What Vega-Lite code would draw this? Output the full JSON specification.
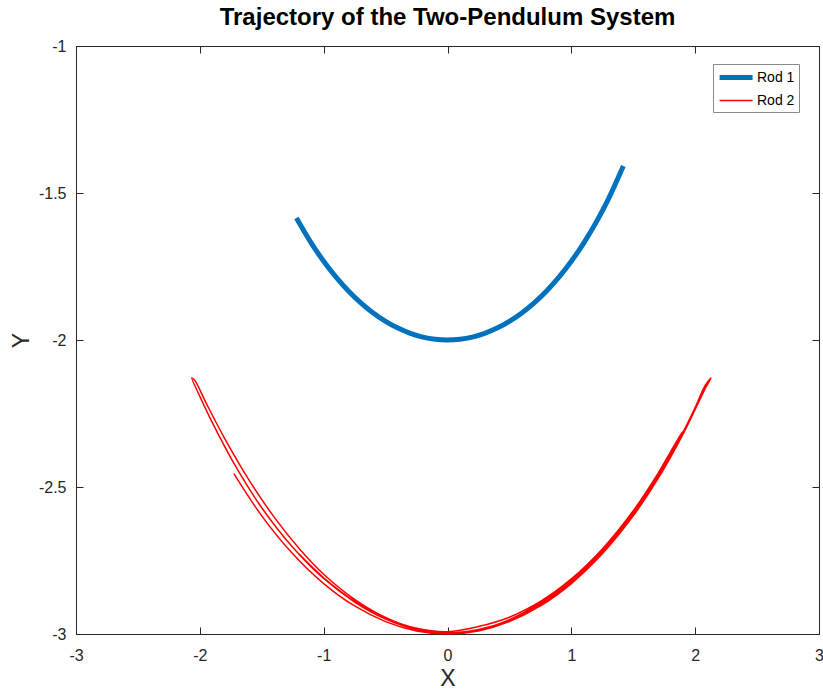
{
  "$schema": "https://vega.github.io/schema/vega-lite/v6.json",
  "autosize": {"type": "none"},
  "width": 743,
  "height": 588,
  "padding": {"left": 76, "top": 46, "right": 4, "bottom": 58},
  "background": "white",
  "title": {"text": "Trajectory of the Two-Pendulum System", "font": "Liberation Sans", "fontSize": 24, "fontWeight": "bold", "color": "#000000", "offset": 8, "anchor": "middle"},
  "config": {
    "view": {"stroke": "#262626", "strokeWidth": 1},
    "axis": {"grid": false, "labelFont": "Liberation Sans", "labelFontSize": 16, "labelColor": "#262626", "titleFont": "Liberation Sans", "titleFontWeight": "normal", "titleColor": "#262626", "domainColor": "#262626", "tickColor": "#262626", "tickSize": -7, "tickWidth": 1, "domainWidth": 1, "labelExpr": "datum.value + ''"}
  },
  "data": {"values": [
    {"s":"Rod 1","i":1,"x":-1.22,"y":-1.585},{"s":"Rod 1","i":2,"x":-1.1,"y":-1.6703},{"s":"Rod 1","i":3,"x":-1.0,"y":-1.7321},{"s":"Rod 1","i":4,"x":-0.9,"y":-1.7861},{"s":"Rod 1","i":5,"x":-0.8,"y":-1.833},{"s":"Rod 1","i":6,"x":-0.7,"y":-1.8735},{"s":"Rod 1","i":7,"x":-0.6,"y":-1.9079},{"s":"Rod 1","i":8,"x":-0.5,"y":-1.9365},{"s":"Rod 1","i":9,"x":-0.4,"y":-1.9596},{"s":"Rod 1","i":10,"x":-0.3,"y":-1.9774},{"s":"Rod 1","i":11,"x":-0.2,"y":-1.99},{"s":"Rod 1","i":12,"x":-0.1,"y":-1.9975},{"s":"Rod 1","i":13,"x":0,"y":-2},{"s":"Rod 1","i":14,"x":0.1,"y":-1.9975},{"s":"Rod 1","i":15,"x":0.2,"y":-1.99},{"s":"Rod 1","i":16,"x":0.3,"y":-1.9774},{"s":"Rod 1","i":17,"x":0.4,"y":-1.9596},{"s":"Rod 1","i":18,"x":0.5,"y":-1.9365},{"s":"Rod 1","i":19,"x":0.6,"y":-1.9079},{"s":"Rod 1","i":20,"x":0.7,"y":-1.8735},{"s":"Rod 1","i":21,"x":0.8,"y":-1.833},{"s":"Rod 1","i":22,"x":0.9,"y":-1.7861},{"s":"Rod 1","i":23,"x":1.0,"y":-1.7321},{"s":"Rod 1","i":24,"x":1.1,"y":-1.6703},{"s":"Rod 1","i":25,"x":1.2,"y":-1.6},{"s":"Rod 1","i":26,"x":1.3,"y":-1.5199},{"s":"Rod 1","i":27,"x":1.42,"y":-1.4084},

    {"s":"Rod 2","i":1,"x":-1.725,"y":-2.4545},{"s":"Rod 2","i":2,"x":-1.5,"y":-2.5981},{"s":"Rod 2","i":3,"x":-1.25,"y":-2.7272},{"s":"Rod 2","i":4,"x":-1.0,"y":-2.8284},{"s":"Rod 2","i":5,"x":-0.75,"y":-2.9047},{"s":"Rod 2","i":6,"x":-0.5,"y":-2.958},{"s":"Rod 2","i":7,"x":-0.25,"y":-2.9896},{"s":"Rod 2","i":8,"x":0,"y":-3},{"s":"Rod 2","i":9,"x":0.25,"y":-2.9896},{"s":"Rod 2","i":10,"x":0.5,"y":-2.958},{"s":"Rod 2","i":11,"x":0.75,"y":-2.9047},{"s":"Rod 2","i":12,"x":1.0,"y":-2.8284},{"s":"Rod 2","i":13,"x":1.25,"y":-2.7272},{"s":"Rod 2","i":14,"x":1.5,"y":-2.5981},{"s":"Rod 2","i":15,"x":1.7,"y":-2.4718},{"s":"Rod 2","i":16,"x":1.9,"y":-2.3216},{"s":"Rod 2","i":17,"x":2.0,"y":-2.2361},{"s":"Rod 2","i":18,"x":2.08,"y":-2.166},{"s":"Rod 2","i":19,"x":2.128,"y":-2.129},
    {"s":"Rod 2","i":20,"x":2.08,"y":-2.1549},{"s":"Rod 2","i":21,"x":2.0,"y":-2.2293},{"s":"Rod 2","i":22,"x":1.9,"y":-2.3152},{"s":"Rod 2","i":23,"x":1.7,"y":-2.4658},{"s":"Rod 2","i":24,"x":1.5,"y":-2.5923},{"s":"Rod 2","i":25,"x":1.25,"y":-2.7217},{"s":"Rod 2","i":26,"x":1.0,"y":-2.8231},{"s":"Rod 2","i":27,"x":0.75,"y":-2.8996},{"s":"Rod 2","i":28,"x":0.5,"y":-2.953},{"s":"Rod 2","i":29,"x":0.25,"y":-2.9845},{"s":"Rod 2","i":30,"x":0,"y":-2.996},{"s":"Rod 2","i":31,"x":-0.25,"y":-2.9845},{"s":"Rod 2","i":32,"x":-0.5,"y":-2.9495},{"s":"Rod 2","i":33,"x":-0.75,"y":-2.8913},{"s":"Rod 2","i":34,"x":-1.0,"y":-2.8114},{"s":"Rod 2","i":35,"x":-1.25,"y":-2.7051},{"s":"Rod 2","i":36,"x":-1.5,"y":-2.5704},{"s":"Rod 2","i":37,"x":-1.7,"y":-2.4378},{"s":"Rod 2","i":38,"x":-1.9,"y":-2.2802},{"s":"Rod 2","i":39,"x":-2.0,"y":-2.1916},{"s":"Rod 2","i":40,"x":-2.065,"y":-2.129},
    {"s":"Rod 2","i":41,"x":-2.04,"y":-2.1379},{"s":"Rod 2","i":42,"x":-1.95,"y":-2.2136},{"s":"Rod 2","i":43,"x":-1.8,"y":-2.3347},{"s":"Rod 2","i":44,"x":-1.6,"y":-2.4784},{"s":"Rod 2","i":45,"x":-1.4,"y":-2.6023},{"s":"Rod 2","i":46,"x":-1.2,"y":-2.708},{"s":"Rod 2","i":47,"x":-1.0,"y":-2.7966},{"s":"Rod 2","i":48,"x":-0.75,"y":-2.882},{"s":"Rod 2","i":49,"x":-0.5,"y":-2.9438},{"s":"Rod 2","i":50,"x":-0.25,"y":-2.9825},{"s":"Rod 2","i":51,"x":0,"y":-2.998},{"s":"Rod 2","i":52,"x":0.25,"y":-2.9866},{"s":"Rod 2","i":53,"x":0.5,"y":-2.951},{"s":"Rod 2","i":54,"x":0.75,"y":-2.8944},{"s":"Rod 2","i":55,"x":1.0,"y":-2.8178},{"s":"Rod 2","i":56,"x":1.25,"y":-2.7162},{"s":"Rod 2","i":57,"x":1.5,"y":-2.5865},{"s":"Rod 2","i":58,"x":1.7,"y":-2.4597},{"s":"Rod 2","i":59,"x":1.895,"y":-2.313},
    {"s":"Rod 2","i":60,"x":1.8,"y":-2.3812},{"s":"Rod 2","i":61,"x":1.7,"y":-2.4536},{"s":"Rod 2","i":62,"x":1.5,"y":-2.5807},{"s":"Rod 2","i":63,"x":1.25,"y":-2.7107},{"s":"Rod 2","i":64,"x":1.0,"y":-2.8125},{"s":"Rod 2","i":65,"x":0.75,"y":-2.8892},{"s":"Rod 2","i":66,"x":0.5,"y":-2.9428},{"s":"Rod 2","i":67,"x":0.25,"y":-2.9745},{"s":"Rod 2","i":68,"x":0,"y":-2.992},{"s":"Rod 2","i":69,"x":-0.25,"y":-2.9805},{"s":"Rod 2","i":70,"x":-0.5,"y":-2.9455},{"s":"Rod 2","i":71,"x":-0.75,"y":-2.8880},{"s":"Rod 2","i":72,"x":-1.0,"y":-2.8085},{"s":"Rod 2","i":73,"x":-1.2,"y":-2.7275}
  ]},
  "resolve": {"axis": {"x": "independent", "y": "independent"}},
  "layer": [
    {
      "mark": {"type": "line", "interpolate": "catmull-rom"},
      "encoding": {
        "x": {"field": "x", "type": "quantitative", "scale": {"domain": [-3, 3], "nice": false, "zero": false}, "axis": {"orient": "bottom", "title": "X", "titleFontSize": 23, "titlePadding": 4, "values": [-3,-2,-1,0,1,2,3], "labelPadding": 20, "labelFlush": false}},
        "y": {"field": "y", "type": "quantitative", "scale": {"domain": [-3, -1], "nice": false, "zero": false}, "axis": {"orient": "left", "title": "Y", "titleFontSize": 23, "titlePadding": 5, "values": [-3,-2.5,-2,-1.5,-1], "labelPadding": 17, "labelFlush": false}},
        "order": {"field": "i", "type": "quantitative"},
        "detail": {"field": "s"},
        "color": {"field": "s", "type": "nominal", "scale": {"domain": ["Rod 1", "Rod 2"], "range": ["#0072BD", "#FF0000"]}, "legend": {"title": null, "orient": "none", "legendX": 637, "legendY": 18, "symbolType": "M-1.5,0H3.5", "symbolSize": 174, "symbolOffset": 3, "labelFont": "Liberation Sans", "labelFontSize": 14, "labelColor": "#000000", "strokeColor": "#8a8a8a", "padding": 4, "fillColor": "white", "labelOffset": 18, "rowPadding": 5, "labelExpr": "datum.label + ' '"}},
        "strokeWidth": {"field": "s", "type": "nominal", "scale": {"domain": ["Rod 1", "Rod 2"], "range": [5, 1.5]}, "legend": {"title": null, "orient": "none", "legendX": 637, "legendY": 18, "symbolType": "M-1.5,0H3.5", "symbolSize": 174, "symbolOffset": 3, "labelFont": "Liberation Sans", "labelFontSize": 14, "labelColor": "#000000", "strokeColor": "#8a8a8a", "padding": 4, "fillColor": "white", "labelOffset": 18, "rowPadding": 5, "labelExpr": "datum.label + ' '"}}
      }
    },
    {
      "mark": {"type": "point", "opacity": 0},
      "encoding": {
        "x": {"field": "x", "type": "quantitative", "axis": {"orient": "top", "title": null, "labels": false, "domain": false, "values": [-3,-2,-1,0,1,2,3]}},
        "y": {"field": "y", "type": "quantitative", "axis": {"orient": "right", "title": null, "labels": false, "domain": false, "values": [-3,-2.5,-2,-1.5,-1]}}
      }
    }
  ]
}
